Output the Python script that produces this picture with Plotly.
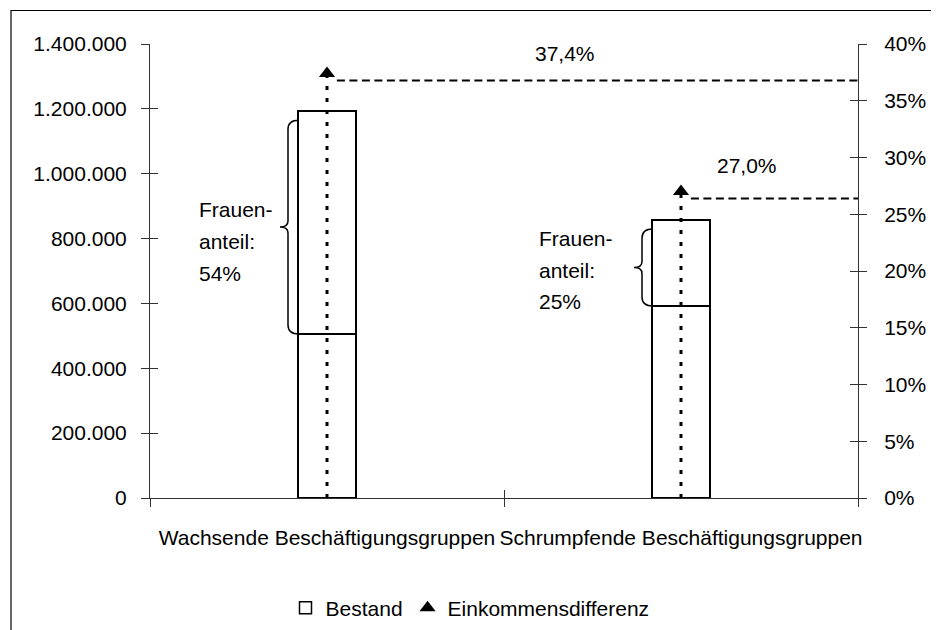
import plotly.graph_objects as go

# ---- data ----
categories = ["Wachsende Beschäftigungsgruppen", "Schrumpfende Beschäftigungsgruppen"]
bestand_unten = [506000, 592000]          # lower part of the stacked column
bestand_frauen = [687000, 265000]         # upper part (bracketed "Frauenanteil")
einkommensdifferenz = [37.4, 27.0]        # percent, right axis
frauenanteil_text = ["54%", "25%"]
left_ticks = [0, 200000, 400000, 600000, 800000, 1000000, 1200000, 1400000]
right_ticks = [0, 5, 10, 15, 20, 25, 30, 35, 40]
right_ticktext = [f"{t}%" for t in right_ticks]

FONT = "Liberation Sans, Arial, sans-serif"
FS = 21
AX = "#333333"

fig = go.Figure()

fig.add_trace(go.Bar(
    x=categories, y=bestand_unten, name="Bestand", width=0.164,
    marker=dict(color="white", line=dict(color="black", width=1.5)),
    showlegend=True, legendrank=1))
fig.add_trace(go.Bar(
    x=categories, y=bestand_frauen, name="Bestand", width=0.164,
    marker=dict(color="white", line=dict(color="black", width=1.5)),
    showlegend=False))

# dotted drop lines from the axis to the markers
for c, v in zip(categories, einkommensdifferenz):
    fig.add_trace(go.Scatter(
        x=[c, c], y=[0, v], yaxis="y2", mode="lines",
        line=dict(color="black", width=3, dash="4px,8px"),
        showlegend=False, hoverinfo="skip"))

fig.add_trace(go.Scatter(
    x=categories, y=einkommensdifferenz, yaxis="y2", mode="markers",
    name="Einkommensdifferenz",
    marker=dict(symbol="triangle-up", size=14, color="black"),
    legendrank=2))

# empty helper traces so the overlay axes (inner half of the crossing ticks) are drawn
for ya in ["y3", "y4"]:
    fig.add_trace(go.Scatter(x=[None], y=[None], xaxis="x2", yaxis=ya,
                             mode="markers", showlegend=False, hoverinfo="skip"))

shapes = []
# dashed horizontal lines from marker to right axis
for i, v in enumerate(einkommensdifferenz):
    shapes.append(dict(type="line", xref="x", yref="y2",
                       x0=i + 0.028, x1=1.5,
                       ysizemode="pixel", yanchor=v, y0=-7, y1=-7,
                       line=dict(color="black", width=2, dash="8px,4.5px")))

# curly braces beside the upper column parts
px2val = 1400000 / 454.0
for i, (lo, up) in enumerate(zip(bestand_unten, bestand_frauen)):
    yb = lo
    yt = lo + up - 9 * px2val
    ym = (yb + yt) / 2
    d = 9 * px2val
    d2 = 6 * px2val
    path = (f"M -28,{yt} Q -39,{yt} -39,{yt - d} "
            f"L -39,{ym + d2} Q -39,{ym} -47,{ym} "
            f"Q -39,{ym} -39,{ym - d2} "
            f"L -39,{yb + d} Q -39,{yb} -28,{yb}")
    shapes.append(dict(type="path", xref="x", yref="y", xsizemode="pixel",
                       xanchor=i, path=path,
                       line=dict(color="black", width=1.5)))

# outer frame
shapes.append(dict(type="rect", xref="paper", yref="paper",
                   x0=(11 - 150) / 708, x1=(960 - 150) / 708,
                   y0=(498 - 660) / 454, y1=(498 - 10.5) / 454,
                   line=dict(color="black", width=1.2), layer="below"))

annotations = []
# "Frauenanteil" text blocks
text_x = [-130, -144]
text_y = [[210, 241, 273], [238, 270, 301]]
for i, c in enumerate(categories):
    for line, py in zip(["Frauen-", "anteil:", frauenanteil_text[i]], text_y[i]):
        annotations.append(dict(x=i, xref="x", xshift=text_x[i], xanchor="left",
                                y=(498 - py) / 454, yref="paper", yanchor="middle",
                                text=line, showarrow=False,
                                font=dict(family=FONT, size=FS, color="black")))
# value labels
lab_dx = [238, 66]
lab_dy = [20, 26]
for i, v in enumerate(einkommensdifferenz):
    annotations.append(dict(x=i, xref="x", xshift=lab_dx[i],
                            y=v, yref="y2", yshift=lab_dy[i],
                            text=f"{v:.1f}%".replace(".", ","), showarrow=False,
                            font=dict(family=FONT, size=FS, color="black")))

common = dict(showgrid=False, zeroline=False, tickcolor=AX,
              ticklen=8, tickwidth=1, automargin=False)

fig.update_layout(
    width=939, height=630,
    margin=dict(l=142, r=89, t=36, b=140, autoexpand=False),
    paper_bgcolor="white", plot_bgcolor="white",
    font=dict(family=FONT, size=FS, color="black"),
    separators=",.",
    barmode="stack",
    showlegend=True,
    legend=dict(orientation="h", x=(470 - 150) / 708, xanchor="center",
                y=(498 - 608) / 454, yanchor="middle", xref="paper",
                traceorder="normal",
                font=dict(family=FONT, size=FS), itemwidth=30,
                bgcolor="rgba(0,0,0,0)"),
    xaxis=dict(type="category", range=[-0.5, 1.5], showline=True, linecolor=AX,
               ticks="outside", tickson="boundaries", ticklabelstandoff=21,
               tickangle=0, **common),
    xaxis2=dict(overlaying="x", anchor="y3", side="bottom", range=[-0.5, 1.5],
                tickvals=[-0.5, 0.5, 1.5], ticks="inside", showticklabels=False,
                showline=False, **common),
    yaxis=dict(range=[0, 1400000], tickvals=left_ticks, tickformat=",d",
               showline=True, linecolor=AX, ticks="outside",
               ticklabelstandoff=10, **common),
    yaxis2=dict(range=[0, 40], tickvals=right_ticks, ticktext=right_ticktext,
                overlaying="y", side="right", anchor="x",
                showline=True, linecolor=AX, ticks="outside",
                ticklabelstandoff=13, **common),
    yaxis3=dict(range=[0, 1400000], tickvals=left_ticks, overlaying="y",
                side="left", anchor="x2", ticks="inside", showticklabels=False,
                showline=False, **common),
    yaxis4=dict(range=[0, 40], tickvals=right_ticks, overlaying="y",
                side="right", anchor="x2", ticks="inside", showticklabels=False,
                showline=False, **common),
    shapes=shapes,
    annotations=annotations,
)

fig.write_html("out.html")
